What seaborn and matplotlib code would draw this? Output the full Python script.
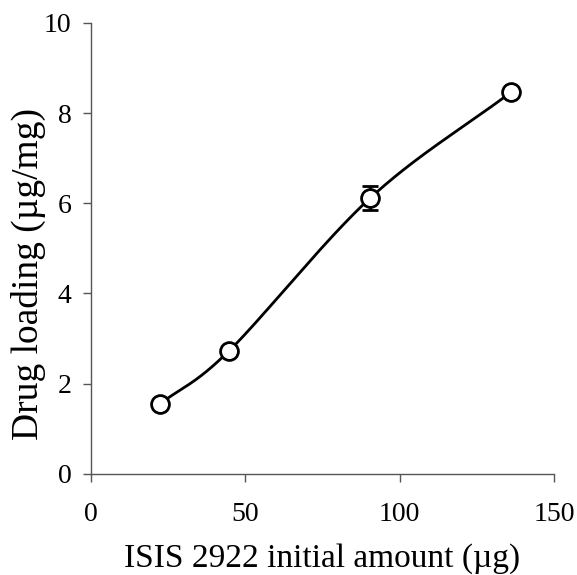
import numpy as np
import pandas as pd
import matplotlib
matplotlib.use("Agg")
import matplotlib.pyplot as plt
import seaborn as sns

amount = [22.3, 44.6, 90.5, 136.0]
loading = [1.55, 2.72, 6.12, 8.46]
err = [0.0, 0.0, 0.27, 0.0]

sns.set_theme(style="ticks")
plt.rcParams['font.family'] = ['Liberation Serif', 'DejaVu Serif']
plt.rcParams['text.color'] = 'black'
plt.rcParams['axes.labelcolor'] = 'black'
plt.rcParams['xtick.color'] = 'black'
plt.rcParams['ytick.color'] = 'black'

df = pd.DataFrame({"amount": amount, "loading": loading, "err": err})

def catmull_rom(x, y, n=60):
    x = np.asarray(x, float); y = np.asarray(y, float)
    px = np.concatenate([[2*x[0]-x[1]], x, [2*x[-1]-x[-2]]])
    py = np.concatenate([[2*y[0]-y[1]], y, [2*y[-1]-y[-2]]])
    xs, ys = [], []
    t = np.linspace(0, 1, n)
    for i in range(1, len(px)-2):
        p0, p1, p2, p3 = [np.array([px[j], py[j]]) for j in range(i-1, i+3)]
        pts = 0.5*((2*p1)[:, None] + (-p0+p2)[:, None]*t + (2*p0-5*p1+4*p2-p3)[:, None]*t**2
                   + (-p0+3*p1-3*p2+p3)[:, None]*t**3)
        xs.extend(pts[0]); ys.extend(pts[1])
    return np.array(xs), np.array(ys)

cx, cy = catmull_rom(amount, loading)
curve = pd.DataFrame({"x": cx, "y": cy})

fig = plt.figure(figsize=(5.77, 5.75), dpi=100)
ax = fig.add_axes([0.158, 0.176, 0.802, 0.784])

sns.lineplot(data=curve, x="x", y="y", sort=False, color="black", lw=2, ax=ax)
ax.errorbar(df["amount"], df["loading"], yerr=df["err"], fmt="none", ecolor="black",
            elinewidth=2, capsize=6, capthick=2, zorder=3)
sns.scatterplot(data=df, x="amount", y="loading", s=165, facecolor="white",
                edgecolor="black", linewidth=2, zorder=4, ax=ax)

ax.set_xlim(0, 150)
ax.set_ylim(0, 10)
ax.set_xticks([0, 50, 100, 150])
ax.set_yticks([0, 2, 4, 6, 8, 10])
ax.set_xlabel("ISIS 2922 initial amount (µg)", fontsize=24, labelpad=12)
ax.set_ylabel("Drug loading (µg/mg)", fontsize=27)
ax.yaxis.set_label_coords(-0.098, 0.443)
ax.tick_params(axis="both", labelsize=20, length=6, width=1, color="#555555",
               direction="out", labelcolor="black")
ax.tick_params(axis="x", pad=14)
ax.tick_params(axis="y", pad=8)
for s in ["top", "right"]:
    ax.spines[s].set_visible(False)
for s in ["left", "bottom"]:
    ax.spines[s].set_color("#555555")
    ax.spines[s].set_linewidth(1)
ax.set_facecolor("white")

fig.savefig("out.png", dpi=100, facecolor="white")
